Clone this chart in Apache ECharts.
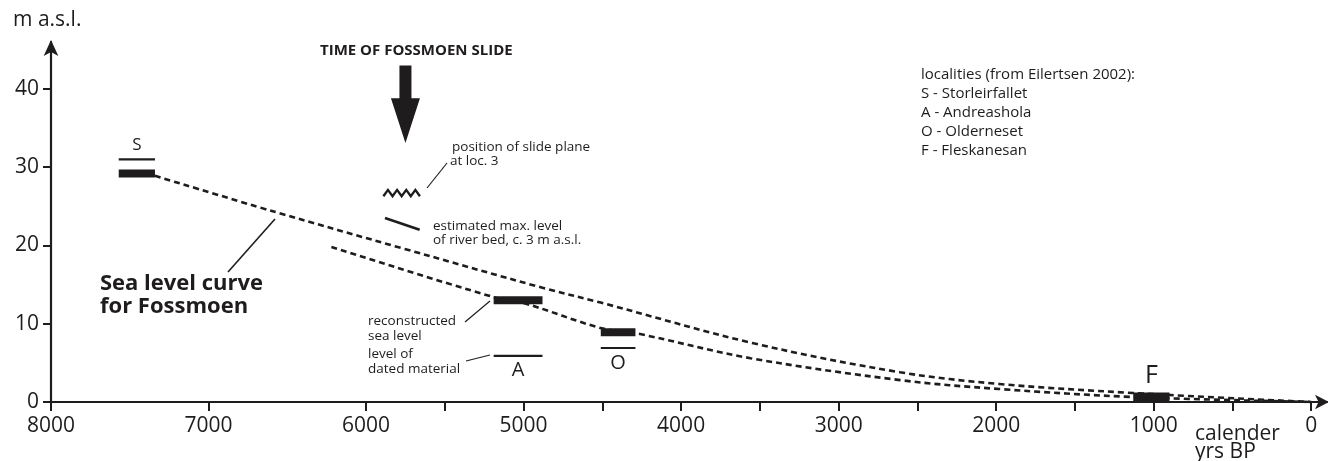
<!DOCTYPE html>
<html><head><meta charset="utf-8">
<script src="https://cdn.jsdelivr.net/npm/echarts@6/dist/echarts.min.js"></script>
<style>html,body{margin:0;padding:0;background:#fff}#c{width:1328px;height:461px}</style>
</head><body><div id="c"></div><script>
// ---------- data ----------
const yearTicks  = [8000, 7000, 6000, 5500, 5000, 4500, 4000, 3500, 3000, 2500, 2000, 1500, 1000, 500, 0];
const yearLabels = [8000, 7000, 6000, 5000, 4000, 3000, 2000, 1000, 0];
const levelTicks = [0, 10, 20, 30, 40];

// sea level curves [calendar yrs BP, m a.s.l.]
const upperCurve = [[7340, 28.9], [6580, 24.3], [5780, 19.7], [4880, 14.6], [4510, 12.7], [3540, 7.5], [2610, 3.8], [1980, 2.3], [1130, 1.15], [0, 0]];
const lowerCurve = [[6220, 19.8], [5190, 13.4], [5000, 12.65], [4510, 9.45], [4290, 8.8], [3560, 5.6], [2610, 2.8], [1980, 1.66], [1130, 0.64], [0, 0]];

// localities: reconstructed sea level (thick) and level of dated material (thin)
const seaLevelS = [[7570, 29.2], [7340, 29.2]];
const datedS    = [[7570, 31.0], [7340, 31.0]];
const seaLevelA = [[5190, 13.0], [4880, 13.0]];
const datedA    = [[5190, 5.9], [4880, 5.9]];
const seaLevelO = [[4510, 8.9], [4290, 8.9]];
const datedO    = [[4510, 6.9], [4290, 6.9]];
const seaLevelF = [[1130, 0.6], [900, 0.6]];

// slide plane (zigzag) and estimated max. level of river bed
const slidePlane = [[5890, 26.3], [5861, 27.1], [5832, 26.3], [5803, 27.1], [5774, 26.3], [5745, 27.1], [5716, 26.3], [5687, 27.1], [5658, 26.3]];
const riverBed   = [[5880, 23.5], [5660, 22.0]];
const slideTime  = 5750;           // time of Fossmoen slide (arrow)
const slideArrow = [43.0, 38.8, 33.1]; // shaft top, head base, tip (m)

const localityLabels = [['S', 7455, 32.8], ['A', 5035, 4.1], ['O', 4400, 5.0], ['F', 1015, 3.3]];
const legendTitle = 'localities (from Eilertsen 2002):';
const legendItems = ['S - Storleirfallet', 'A - Andreashola', 'O - Olderneset', 'F - Fleskanesan'];

// ---------- chart ----------
const FONT = '"Open Sans", "Noto Sans", sans-serif';
const INK = '#1f1c1d';
const chart = echarts.init(document.getElementById('c'), null, {renderer: 'canvas'});

function seg(data, width, extra) {
  return Object.assign({
    type: 'line', data: data, symbol: 'none', silent: true, animation: false,
    lineStyle: {color: INK, width: width, cap: 'butt', join: 'miter'}, z: 3
  }, extra || {});
}

const option = {
  animation: false,
  backgroundColor: '#fff',
  grid: {left: 51, right: 1, top: 42, bottom: 59, containLabel: false},
  xAxis: {
    type: 'value', inverse: true, min: -100, max: 8000,
    axisLine: {show: true, onZero: false, lineStyle: {color: INK, width: 2.2},
      symbol: ['none', 'arrow'], symbolSize: [11, 14], symbolOffset: [0, 2]},
    axisTick: {show: true, inside: false, length: 9, lineStyle: {color: INK, width: 2}, customValues: yearTicks},
    axisLabel: {color: INK, fontFamily: FONT, fontSize: 21, margin: 14, customValues: yearLabels,
      formatter: function (v) { return String(v); }},
    splitLine: {show: false}
  },
  yAxis: {
    type: 'value', min: 0, max: 46,
    axisLine: {show: true, onZero: false, lineStyle: {color: INK, width: 2.2},
      symbol: ['none', 'arrow'], symbolSize: [11, 16], symbolOffset: [0, 2]},
    axisTick: {show: true, inside: false, length: 8, lineStyle: {color: INK, width: 2}, customValues: levelTicks},
    axisLabel: {color: INK, fontFamily: FONT, fontSize: 21, margin: 12, customValues: levelTicks,
      formatter: function (v) { return String(v); }},
    splitLine: {show: false}
  },
  series: [
    seg(upperCurve, 2.6, {smooth: 0.35, lineStyle: {color: INK, width: 2.6, type: [6, 4]}, z: 2}),
    seg(lowerCurve, 2.6, {smooth: 0.35, lineStyle: {color: INK, width: 2.6, type: [6, 4]}, z: 2}),
    seg(seaLevelS, 8), seg(datedS, 2.2),
    seg(seaLevelA, 8), seg(datedA, 2.2),
    seg(seaLevelO, 8), seg(datedO, 2.2),
    seg(seaLevelF, 9.5),
    seg(slidePlane, 2.4),
    seg(riverBed, 2.6)
  ]
};
chart.setOption(option);

// ---------- annotations ----------
function px(x, y) { return chart.convertToPixel({gridIndex: 0}, [x, y]); }
function txt(text, x, y, size, weight, align) {
  return {type: 'text', x: x, y: y, silent: true, z: 10,
    style: {text: text, fill: INK, fontFamily: FONT, fontSize: size, fontWeight: weight || 'normal',
      align: align || 'left', verticalAlign: 'middle'}};
}
function ln(x1, y1, x2, y2, w) {
  return {type: 'line', silent: true, z: 10, shape: {x1: x1, y1: y1, x2: x2, y2: y2},
    style: {stroke: INK, lineWidth: w || 1.2}};
}
const g = [];
// axis titles
g.push(txt('m a.s.l.', 13, 20, 21));
g.push(txt('calender', 1195, 434, 21));
g.push(txt('yrs BP', 1195, 452, 21));
// slide title and arrow
g.push(txt('TIME OF FOSSMOEN SLIDE', 320, 51, 15, 'bold'));
const aTop = px(slideTime, slideArrow[0]), aBase = px(slideTime, slideArrow[1]), aTip = px(slideTime, slideArrow[2]);
g.push({type: 'polygon', silent: true, z: 10,
  shape: {points: [[aTop[0] - 6, aTop[1]], [aTop[0] + 6, aTop[1]], [aBase[0] + 6, aBase[1]], [aBase[0] + 14.5, aBase[1]],
    [aTip[0], aTip[1]], [aBase[0] - 14.5, aBase[1]], [aBase[0] - 6, aBase[1]]]},
  style: {fill: INK}});
// slide plane / river bed notes
g.push(txt('position of slide plane', 452, 147, 13.5));
g.push(txt('at loc. 3', 450, 161, 13.5));
g.push(ln(427, 188, 447, 163));
g.push(txt('estimated max. level', 433, 226, 13.5));
g.push(txt('of river bed, c. 3 m a.s.l.', 433, 240, 13.5));
// sea level curve label
g.push(txt('Sea level curve', 100, 284, 22, 'bold'));
g.push(txt('for Fossmoen', 100, 307, 22, 'bold'));
g.push(ln(228, 272, 275, 219, 1.6));
// explanation of symbols at A
g.push(txt('reconstructed', 368, 321, 13.5));
g.push(txt('sea level', 368, 336, 13.5));
g.push(txt('level of', 368, 354, 13.5));
g.push(txt('dated material', 368, 369, 13.5));
g.push(ln(465, 322, 490, 301));
g.push(ln(466, 361, 490, 355));
// locality letters
localityLabels.forEach(function (d) {
  const p = px(d[1], d[2]);
  const size = d[0] === 'F' ? 25 : (d[0] === 'S' ? 17 : 20);
  g.push(txt(d[0], p[0], p[1], size, 'normal', 'center'));
});
// legend of localities
g.push(txt(legendTitle, 921, 75, 15));
legendItems.forEach(function (t, i) { g.push(txt(t, 921, 94 + i * 18.8, 15)); });

chart.setOption({graphic: g});
</script></body></html>
